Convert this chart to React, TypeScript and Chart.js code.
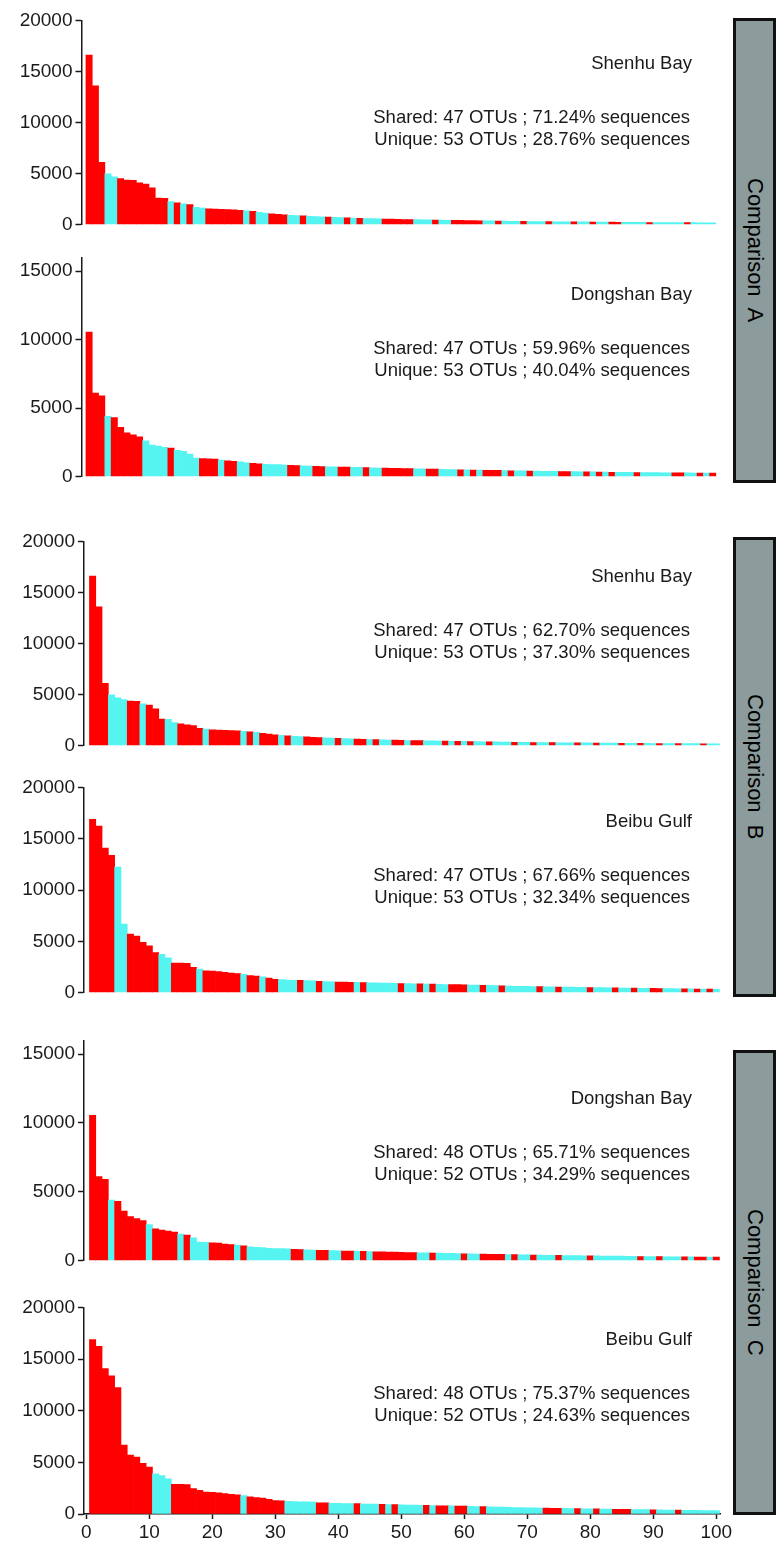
import React, { useEffect, useRef } from "react";
import { Chart, registerables } from "chart.js";
Chart.register(...registerables);

// ---------- data ----------
const RANKS: number[] = Array.from({ length: 100 }, (_, i) => i + 1);
const X_TICKS: number[] = [0, 10, 20, 30, 40, 50, 60, 70, 80, 90, 100];
const Y_TICKS: number[] = [0, 5000, 10000, 15000, 20000];

const SHENHU: number[] = [16600, 13600, 6100, 4980, 4680, 4500, 4370, 4330, 4100, 3970, 3600, 2600, 2580, 2250, 2120, 2040, 1950, 1700, 1620, 1550, 1520, 1500, 1480, 1450, 1400, 1350, 1300, 1200, 1120, 1050, 1000, 960, 920, 880, 850, 820, 790, 760, 730, 700, 680, 660, 640, 620, 600, 580, 560, 540, 530, 520, 500, 490, 480, 470, 460, 450, 440, 430, 420, 410, 400, 390, 380, 370, 360, 350, 340, 330, 320, 310, 300, 300, 290, 290, 280, 280, 270, 270, 260, 260, 250, 250, 240, 240, 230, 230, 220, 220, 220, 210, 210, 200, 200, 200, 190, 190, 190, 180, 180, 180];

const DONGSHAN: number[] = [10550, 6100, 5900, 4400, 4300, 3600, 3200, 3050, 2900, 2620, 2300, 2220, 2140, 2080, 1920, 1850, 1650, 1350, 1320, 1300, 1280, 1200, 1160, 1120, 1080, 1000, 960, 940, 900, 880, 870, 850, 820, 800, 780, 760, 750, 740, 720, 710, 700, 690, 680, 670, 660, 640, 630, 620, 610, 600, 590, 580, 570, 560, 550, 540, 530, 520, 510, 500, 490, 480, 470, 460, 460, 450, 440, 430, 420, 420, 410, 400, 390, 380, 380, 370, 360, 360, 350, 340, 340, 330, 330, 320, 320, 310, 310, 300, 300, 290, 290, 280, 280, 280, 270, 270, 260, 260, 250, 250];

const BEIBU: number[] = [16880, 16240, 14080, 13380, 12230, 6680, 5700, 5500, 4900, 4550, 3900, 3720, 3400, 2880, 2870, 2860, 2470, 2300, 2120, 2100, 2040, 1970, 1910, 1850, 1780, 1660, 1600, 1540, 1420, 1300, 1270, 1220, 1200, 1190, 1170, 1150, 1090, 1080, 1040, 1030, 1020, 1010, 1000, 970, 960, 950, 940, 920, 900, 890, 870, 860, 850, 840, 820, 800, 790, 780, 770, 760, 740, 730, 720, 700, 680, 660, 640, 620, 610, 600, 590, 580, 570, 560, 550, 540, 530, 520, 510, 500, 490, 480, 470, 460, 450, 440, 430, 420, 420, 410, 400, 390, 380, 370, 360, 360, 350, 340, 340, 330];

// ranks of shared OTUs (red) in each panel; the rest are unique (cyan)
const SHARED_A_SHENHU: number[] = [1, 2, 3, 6, 7, 8, 9, 10, 11, 12, 13, 15, 17, 20, 21, 22, 23, 24, 25, 27, 30, 31, 32, 35, 39, 42, 44, 48, 49, 50, 51, 52, 56, 59, 60, 61, 62, 63, 66, 70, 74, 78, 81, 84, 85, 90, 96];
const SHARED_A_DONGSHAN: number[] = [1, 2, 3, 5, 6, 7, 8, 9, 14, 19, 20, 21, 23, 24, 27, 28, 33, 34, 37, 38, 41, 42, 45, 48, 49, 50, 51, 52, 55, 56, 60, 62, 64, 65, 66, 68, 71, 76, 77, 80, 82, 84, 88, 94, 95, 98, 100];
const SHARED_B_SHENHU: number[] = [1, 2, 3, 7, 8, 10, 11, 12, 15, 16, 17, 18, 20, 21, 22, 23, 24, 26, 28, 29, 30, 32, 35, 36, 37, 40, 43, 44, 46, 49, 50, 52, 53, 57, 59, 61, 64, 68, 71, 74, 78, 81, 85, 88, 91, 94, 98];
const SHARED_B_BEIBU: number[] = [1, 2, 3, 4, 7, 8, 9, 10, 11, 14, 15, 16, 17, 19, 20, 21, 22, 23, 24, 26, 27, 29, 30, 34, 37, 40, 41, 42, 44, 50, 53, 55, 58, 59, 60, 63, 66, 72, 75, 80, 84, 87, 90, 91, 95, 97, 99];
const SHARED_C_DONGSHAN: number[] = [1, 2, 3, 5, 6, 7, 8, 9, 11, 12, 13, 14, 16, 20, 21, 22, 23, 25, 33, 34, 37, 38, 41, 42, 44, 46, 47, 48, 49, 50, 51, 52, 55, 60, 63, 64, 65, 66, 68, 71, 75, 80, 88, 91, 95, 97, 98, 100];
const SHARED_C_BEIBU: number[] = [1, 2, 3, 4, 5, 6, 7, 8, 9, 10, 14, 15, 16, 17, 18, 19, 20, 21, 22, 23, 24, 26, 27, 28, 29, 30, 31, 37, 38, 43, 47, 49, 54, 56, 57, 59, 60, 63, 73, 74, 75, 78, 81, 84, 85, 86, 90, 94];

const SITE_NAMES: string[] = ["Shenhu Bay", "Dongshan Bay", "Shenhu Bay", "Beibu Gulf", "Dongshan Bay", "Beibu Gulf"];
const SHARED_TEXT: string[] = [
  "Shared: 47 OTUs ; 71.24% sequences",
  "Shared: 47 OTUs ; 59.96% sequences",
  "Shared: 47 OTUs ; 62.70% sequences",
  "Shared: 47 OTUs ; 67.66% sequences",
  "Shared: 48 OTUs ; 65.71% sequences",
  "Shared: 48 OTUs ; 75.37% sequences",
];
const UNIQUE_TEXT: string[] = [
  "Unique: 53 OTUs ; 28.76% sequences",
  "Unique: 53 OTUs ; 40.04% sequences",
  "Unique: 53 OTUs ; 37.30% sequences",
  "Unique: 53 OTUs ; 32.34% sequences",
  "Unique: 52 OTUs ; 34.29% sequences",
  "Unique: 52 OTUs ; 24.63% sequences",
];
const COMPARISON_LABELS: string[] = ["Comparison  A", "Comparison  B", "Comparison  C"];

// ---------- styles / layout ----------
const RED = "#FF0000";
const CYAN = "#55F4F1";
const INK = "#1a1a1a";
const FONT = "'Liberation Sans', Arial, Helvetica, sans-serif";
const PX_PER_UNIT = 6.3;

type PanelCfg = {
  values: number[];
  shared: number[];
  yMax: number;
  plotTop: number;
  zeroPx: number;
  axisX: number;
  x0: number;
  showX: boolean;
  textY: number;
};

const PANELS: PanelCfg[] = [
  { values: SHENHU, shared: SHARED_A_SHENHU, yMax: 20000, plotTop: 18, zeroPx: 227, axisX: 81.5, x0: 82.8, showX: false, textY: 117 },
  { values: DONGSHAN, shared: SHARED_A_DONGSHAN, yMax: 16000, plotTop: 255, zeroPx: 479, axisX: 81.5, x0: 82.8, showX: false, textY: 348 },
  { values: SHENHU, shared: SHARED_B_SHENHU, yMax: 20000, plotTop: 539, zeroPx: 748, axisX: 84, x0: 86.3, showX: false, textY: 630 },
  { values: BEIBU, shared: SHARED_B_BEIBU, yMax: 20000, plotTop: 785, zeroPx: 994.5, axisX: 84, x0: 86.3, showX: false, textY: 875 },
  { values: DONGSHAN, shared: SHARED_C_DONGSHAN, yMax: 16000, plotTop: 1038.7, zeroPx: 1262.7, axisX: 84, x0: 86.3, showX: false, textY: 1152 },
  { values: BEIBU, shared: SHARED_C_BEIBU, yMax: 20000, plotTop: 1305, zeroPx: 1514, axisX: 84, x0: 86.3, showX: true, textY: 1393 },
];

const BOXES = [
  { top: 18, height: 465 },
  { top: 537, height: 460 },
  { top: 1050, height: 465 },
];

function BarPanel({ p }: { p: PanelCfg }) {
  const ref = useRef<HTMLCanvasElement>(null);
  const xMin = -(p.x0 - p.axisX) / PX_PER_UNIT;
  const xMax = 100.6;
  const plotW = (xMax - xMin) * PX_PER_UNIT;
  const W = Math.ceil(p.axisX + plotW + 14);
  const padRight = W - p.axisX - plotW;
  const top = Math.floor(p.plotTop - 12);
  const padTop = p.plotTop - top;
  const xAxisH = p.showX ? 32 : 0;
  const H = Math.ceil(p.zeroPx - top + (p.showX ? 0 : 12) + xAxisH);
  const padBottom = H - xAxisH - (p.zeroPx - top);

  useEffect(() => {
    const sharedSet = new Set(p.shared);
    const chart = new Chart(ref.current as HTMLCanvasElement, {
      type: "bar",
      data: {
        datasets: [
          {
            data: RANKS.map((r, i) => ({ x: r, y: p.values[i] })),
            backgroundColor: RANKS.map((r) => (sharedSet.has(r) ? RED : CYAN)),
            borderWidth: 0,
            barPercentage: 1,
            categoryPercentage: 1,
          },
        ],
      },
      options: {
        responsive: false,
        maintainAspectRatio: false,
        animation: false,
        layout: { padding: { top: padTop, right: padRight, bottom: padBottom, left: 0 } },
        plugins: { legend: { display: false }, tooltip: { enabled: false } },
        scales: {
          x: {
            type: "linear",
            min: xMin,
            max: xMax,
            display: p.showX,
            offset: false,
            grid: { display: true, offset: false, drawOnChartArea: false, drawTicks: true, tickLength: 5, tickColor: INK, tickWidth: 1.5 },
            border: { display: true, color: INK, width: 1.5 },
            ticks: {
              autoSkip: false,
              maxRotation: 0,
              color: INK,
              padding: 2,
              font: { family: FONT, size: 19 },
              callback: (v: any) => String(v),
            },
            afterBuildTicks: (s: any) => {
              s.ticks = X_TICKS.map((v) => ({ value: v }));
            },
            afterFit: (s: any) => {
              s.height = xAxisH;
            },
          },
          y: {
            type: "linear",
            min: 0,
            max: p.yMax,
            grid: { display: true, drawOnChartArea: false, drawTicks: true, tickLength: 6, tickColor: INK, tickWidth: 1.5 },
            border: { display: true, color: INK, width: 1.5 },
            ticks: {
              color: INK,
              padding: 3,
              font: { family: FONT, size: 19 },
              callback: (v: any) => String(v),
            },
            afterBuildTicks: (s: any) => {
              s.ticks = Y_TICKS.filter((v) => v <= p.yMax).map((v) => ({ value: v }));
            },
            afterFit: (s: any) => {
              s.width = p.axisX;
            },
          },
        },
      },
    } as any);
    return () => chart.destroy();
  }, []);

  return (
    <canvas
      ref={ref}
      width={W}
      height={H}
      style={{ position: "absolute", left: 0, top, width: W, height: H }}
    />
  );
}

export default function App() {
  return (
    <div style={{ position: "absolute", left: 0, top: 0, width: 781, height: 1557, background: "#fff", fontFamily: FONT, color: INK }}>
      {PANELS.map((p, i) => (
        <BarPanel key={"c" + i} p={p} />
      ))}
      {PANELS.map((p, i) => (
        <React.Fragment key={"t" + i}>
          <div style={{ position: "absolute", left: 300, width: 392, top: p.textY - 54 - 11, lineHeight: "22px", fontSize: 18.5, textAlign: "right", whiteSpace: "pre" }}>
            {SITE_NAMES[i]}
          </div>
          <div style={{ position: "absolute", left: 300, width: 390, top: p.textY - 11, lineHeight: "22px", fontSize: 18.5, textAlign: "right", whiteSpace: "pre" }}>
            {SHARED_TEXT[i]}
          </div>
          <div style={{ position: "absolute", left: 300, width: 390, top: p.textY + 21.5 - 11, lineHeight: "22px", fontSize: 18.5, textAlign: "right", whiteSpace: "pre" }}>
            {UNIQUE_TEXT[i]}
          </div>
        </React.Fragment>
      ))}
      {BOXES.map((b, i) => (
        <div
          key={"b" + i}
          style={{
            position: "absolute",
            left: 733,
            top: b.top,
            width: 43,
            height: b.height,
            boxSizing: "border-box",
            border: "3px solid #111",
            background: "#8C9B9B",
            display: "flex",
            alignItems: "center",
            justifyContent: "center",
          }}
        >
          <span style={{ writingMode: "vertical-rl", fontSize: 22, whiteSpace: "pre", color: "#000" }}>{COMPARISON_LABELS[i]}</span>
        </div>
      ))}
    </div>
  );
}
